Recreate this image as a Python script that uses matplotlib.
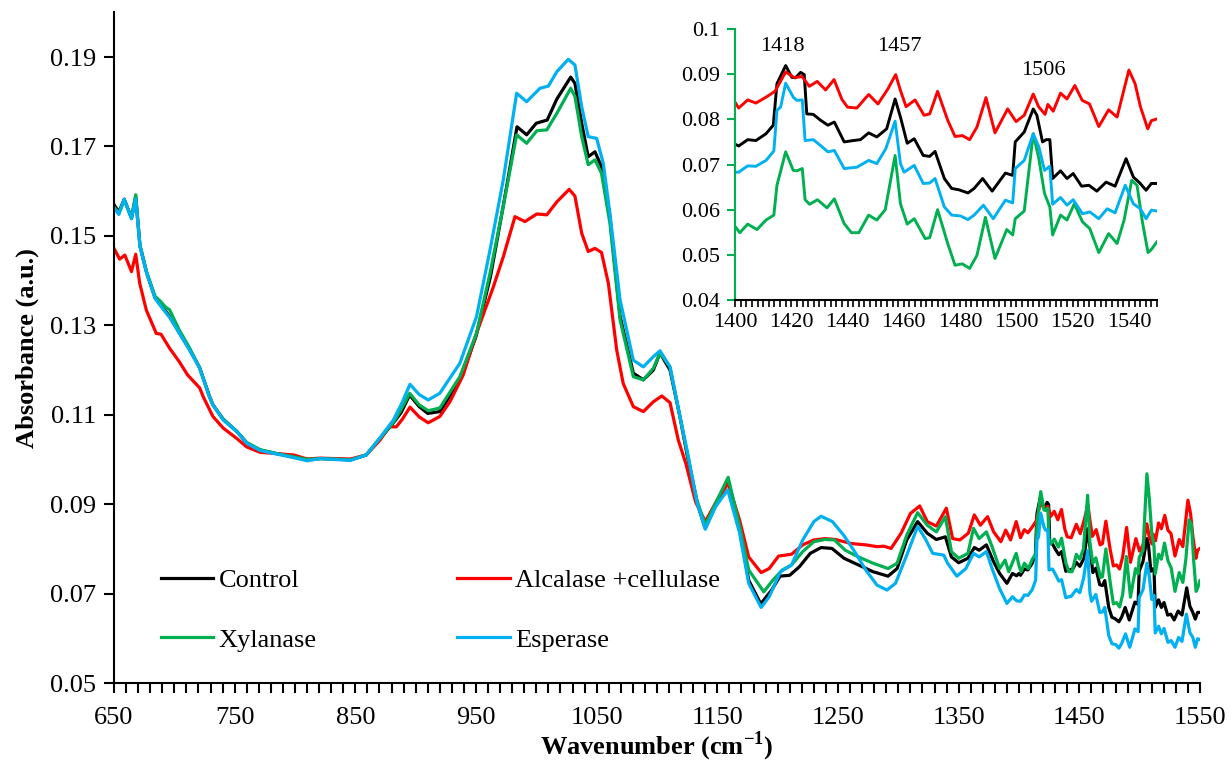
import numpy as np
import matplotlib
matplotlib.use("Agg")
import matplotlib.pyplot as plt
from matplotlib.ticker import MultipleLocator, FixedLocator

plt.rcParams['font.family'] = ['Liberation Serif', 'DejaVu Serif']
plt.rcParams['mathtext.fontset'] = 'custom'
plt.rcParams['mathtext.rm'] = 'Liberation Serif'
plt.rcParams['mathtext.bf'] = 'Liberation Serif:bold'

# ---------------- data (main spectrum, 650-1550 cm-1) ----------------
control_wn = [650, 654, 658.5, 664.5, 668, 671.5, 677, 684, 689, 696, 704, 712.5, 721, 729, 732,
              740.5, 752, 760, 771, 785, 799, 810, 821, 832, 846, 859, 870, 881, 888, 895, 903,
              910, 920, 937, 950, 962, 973, 984, 992, 1000, 1009, 1017, 1028.5, 1032, 1037.6,
              1043, 1048.6, 1054, 1061, 1069.4, 1080.4, 1088.7, 1097, 1102.5, 1110.8, 1119,
              1125, 1133, 1140, 1149, 1159, 1168.5, 1176, 1186, 1195, 1202, 1210, 1218, 1227,
              1236, 1245, 1255, 1267, 1279, 1291.5, 1299, 1307, 1316, 1324, 1331.5, 1339, 1344,
              1350, 1357.7, 1363, 1367, 1373, 1379, 1384, 1390, 1394.6, 1398,
              1400, 1401.3, 1404.5, 1407.4, 1411, 1413.6, 1414.9, 1418, 1420.2, 1421.5, 1423.3,
              1424.6, 1425.5, 1427.8, 1430.4, 1433, 1435.3, 1438.8, 1442, 1444.6, 1447.5,
              1450.4, 1453.9, 1456.9, 1458.8, 1461.2, 1463.7, 1466.9, 1469.2, 1471.1, 1474.4,
              1477, 1479.6, 1482.8, 1485, 1488, 1491.4, 1496.1, 1498.7, 1499.6, 1502.8, 1506,
              1507.3, 1509.3, 1510.6, 1511.9, 1512.9, 1515.7, 1518, 1520.2, 1523.2, 1525.8,
              1528.6, 1531.9, 1535.1, 1539, 1541.6, 1543.9, 1546.1, 1548, 1550]
control_abs = [0.1570, 0.1553, 0.1582, 0.1540, 0.1588, 0.1478, 0.1418, 0.1362, 0.1345, 0.1320,
               0.1284, 0.1247, 0.1205, 0.1142, 0.1122, 0.1090, 0.1062, 0.1037, 0.1021, 0.1013,
               0.1006, 0.1000, 0.1002, 0.1001, 0.0999, 0.1010, 0.1045, 0.1080, 0.1105, 0.1144,
               0.1118, 0.1103, 0.1107, 0.1178, 0.1275, 0.1409, 0.1573, 0.1744, 0.1726, 0.1752,
               0.1759, 0.1806, 0.1855, 0.1841, 0.1752, 0.1677, 0.1688, 0.1655, 0.1543, 0.1320,
               0.1193, 0.1178, 0.1200, 0.1238, 0.1200, 0.1096, 0.1010, 0.0905, 0.0846, 0.0900,
               0.0952, 0.0842, 0.0730, 0.0677, 0.0708, 0.0739, 0.0741, 0.0760, 0.0790, 0.0803,
               0.0801, 0.0779, 0.0764, 0.0749, 0.0739, 0.0756, 0.0820, 0.0861, 0.0835, 0.0821,
               0.0827, 0.0782, 0.0769, 0.0779, 0.0803, 0.0797, 0.0809, 0.0771, 0.0745, 0.0723,
               0.0745, 0.0740,
               0.0745, 0.0741, 0.0755, 0.0753, 0.0768, 0.0787, 0.0879, 0.0919, 0.0893, 0.0892,
               0.0904, 0.0899, 0.0812, 0.0811, 0.0798, 0.0787, 0.0794, 0.0750, 0.0753, 0.0755,
               0.0770, 0.0761, 0.0779, 0.0845, 0.0805, 0.0747, 0.0757, 0.0720, 0.0718, 0.0729,
               0.0669, 0.0647, 0.0644, 0.0637, 0.0647, 0.0669, 0.0641, 0.0681, 0.0676, 0.0750,
               0.0772, 0.0823, 0.0809, 0.0750, 0.0755, 0.0755, 0.0669, 0.0686, 0.0669, 0.0680,
               0.0652, 0.0654, 0.0641, 0.0661, 0.0652, 0.0713, 0.0672, 0.0659, 0.0643, 0.0658,
               0.0658]

alcalase_wn = [650, 654.7, 659, 664.5, 668, 671.3, 676.8, 685, 689, 696, 704, 711, 721, 724, 732,
               740.6, 751.7, 760, 771, 785, 799, 810, 821, 832, 846, 859, 870.4, 878, 884, 889,
               895.3, 903, 910.4, 920, 928.4, 939.4, 950.4, 964.4, 972.6, 982.3, 990.6, 1000.4,
               1008.7, 1017, 1027.2, 1032, 1037.6, 1043, 1048.6, 1054, 1059.7, 1066.6, 1072,
               1080.4, 1088.7, 1097, 1104, 1110.8, 1117.7, 1124, 1132, 1140, 1149, 1159, 1168.5,
               1176, 1186.3, 1193, 1200.8, 1211.5, 1220.8, 1230, 1239, 1248, 1260.8, 1273,
               1282.3, 1288, 1294, 1302.3, 1310, 1317.7, 1324, 1331.5, 1339.8, 1345, 1351, 1358,
               1363, 1368, 1374, 1379, 1385, 1389, 1393, 1397.7,
               1400, 1401.3, 1404.5, 1407.4, 1411, 1414.2, 1418, 1421.2, 1423.8, 1426.4, 1429.2,
               1432.2, 1435.2, 1438, 1440, 1443.3, 1447.5, 1450.8, 1454.3, 1457.1, 1458.8,
               1460.8, 1464, 1467.2, 1469.2, 1472, 1475.6, 1478.2, 1480.8, 1483.4, 1486, 1489.2,
               1492.4, 1496.9, 1499.9, 1502.8, 1506, 1507.9, 1510.2, 1511.2, 1513.1, 1515.7,
               1518, 1520.8, 1523.4, 1526, 1529.3, 1532.8, 1535.8, 1540, 1542.2, 1544.1, 1546.7,
               1548, 1550]
alcalase_abs = [0.1472, 0.1448, 0.1457, 0.1420, 0.1459, 0.1394, 0.1334, 0.1282, 0.1280, 0.1249,
                0.1219, 0.1189, 0.1160, 0.1140, 0.1096, 0.1070, 0.1047, 0.1028, 0.1016, 0.1013,
                0.1010, 0.1001, 0.1003, 0.1002, 0.1001, 0.1010, 0.1043, 0.1073, 0.1073, 0.1090,
                0.1117, 0.1095, 0.1082, 0.1096, 0.1129, 0.1189, 0.1282, 0.1386, 0.1453, 0.1543,
                0.1532, 0.1549, 0.1547, 0.1576, 0.1604, 0.1589, 0.1506, 0.1465, 0.1472, 0.1463,
                0.1394, 0.1245, 0.1170, 0.1118, 0.1107, 0.1129, 0.1142, 0.1127, 0.1043, 0.0990,
                0.0905, 0.0861, 0.0905, 0.0947, 0.0864, 0.0782, 0.0747, 0.0756, 0.0784, 0.0788,
                0.0809, 0.0820, 0.0823, 0.0821, 0.0812, 0.0809, 0.0805, 0.0806, 0.0801, 0.0835,
                0.0879, 0.0896, 0.0861, 0.0851, 0.0891, 0.0823, 0.0820, 0.0835, 0.0876, 0.0853,
                0.0872, 0.0838, 0.0816, 0.0842, 0.0820, 0.0861,
                0.0838, 0.0825, 0.0843, 0.0836, 0.0849, 0.0862, 0.0905, 0.0892, 0.0895, 0.0873,
                0.0884, 0.0865, 0.0888, 0.0844, 0.0827, 0.0825, 0.0855, 0.0834, 0.0867, 0.0899,
                0.0864, 0.0828, 0.0843, 0.0809, 0.0812, 0.0862, 0.0798, 0.0762, 0.0764, 0.0755,
                0.0783, 0.0848, 0.0770, 0.0823, 0.0795, 0.0809, 0.0856, 0.0828, 0.0811, 0.0833,
                0.0818, 0.0858, 0.0845, 0.0875, 0.0842, 0.0834, 0.0784, 0.0821, 0.0805, 0.0909,
                0.0879, 0.0828, 0.0779, 0.0797, 0.0801]

xylanase_wn = [650, 654, 658.5, 664.5, 668, 671.5, 677, 684, 688, 693, 696, 704, 712.5, 721, 729,
               732, 740.5, 752, 760, 771, 785, 799, 810, 821, 832, 846, 859, 870, 881.5, 888, 895,
               903, 910.4, 920, 936.6, 950.4, 961.6, 972.6, 983.7, 992, 1000.4, 1008.7, 1017,
               1028.5, 1032, 1037.6, 1043, 1048.6, 1054, 1061, 1069.4, 1080.4, 1088.7, 1097,
               1102.5, 1110.8, 1119, 1125, 1133, 1140, 1149, 1159, 1168.5, 1176, 1188.5, 1196,
               1204, 1211.5, 1220.8, 1230, 1239, 1247, 1256, 1267, 1279, 1291.5, 1299, 1307,
               1316, 1324, 1331.5, 1339, 1344, 1350, 1357.7, 1362.3, 1367, 1373, 1377.7, 1384,
               1388.5, 1391.5, 1397.7,
               1400, 1401.7, 1404.5, 1407.8, 1411, 1413.8, 1414.9, 1418, 1420.7, 1422, 1423.9,
               1424.9, 1426.5, 1429.3, 1432.7, 1435.3, 1438.8, 1441.4, 1444, 1447.5, 1450.4,
               1453.4, 1456.9, 1458.8, 1461.2, 1463.7, 1467.6, 1469.2, 1472, 1475.6, 1478.2,
               1480.8, 1483.4, 1486, 1489, 1492.4, 1496.6, 1498.7, 1499.6, 1502.8, 1506, 1508,
               1510, 1511.9, 1512.9, 1515.7, 1518, 1520.6, 1523.5, 1526.1, 1529.3, 1532.8,
               1535.8, 1538.3, 1541, 1542.9, 1544.8, 1546.8, 1548, 1550]
xylanase_abs = [0.1565, 0.1550, 0.1580, 0.1540, 0.1592, 0.1480, 0.1420, 0.1365, 0.1355, 0.1340,
                0.1335, 0.1290, 0.1250, 0.1205, 0.1142, 0.1122, 0.1090, 0.1062, 0.1038, 0.1022,
                0.1013, 0.1006, 0.1000, 0.1002, 0.1001, 0.0999, 0.1010, 0.1046, 0.1083, 0.1112,
                0.1148, 0.1122, 0.1109, 0.1115, 0.1185, 0.1282, 0.1416, 0.1566, 0.1726, 0.1707,
                0.1735, 0.1737, 0.1774, 0.1830, 0.1812, 0.1722, 0.1659, 0.1670, 0.1640, 0.1528,
                0.1312, 0.1185, 0.1178, 0.1204, 0.1238, 0.1207, 0.1096, 0.1015, 0.0910, 0.0853,
                0.0905, 0.0960, 0.0850, 0.0753, 0.0704, 0.0730, 0.0753, 0.0764, 0.0794, 0.0816,
                0.0821, 0.0820, 0.0797, 0.0782, 0.0768, 0.0756, 0.0768, 0.0831, 0.0881, 0.0853,
                0.0838, 0.0872, 0.0794, 0.0779, 0.0790, 0.0846, 0.0823, 0.0838, 0.0805, 0.0756,
                0.0775, 0.0749, 0.0790,
                0.0763, 0.0749, 0.0768, 0.0756, 0.0777, 0.0788, 0.0854, 0.0928, 0.0887, 0.0886,
                0.0891, 0.0822, 0.0812, 0.0822, 0.0804, 0.0824, 0.0769, 0.0749, 0.0749, 0.0788,
                0.0777, 0.0800, 0.0920, 0.0813, 0.0768, 0.0780, 0.0736, 0.0738, 0.0800, 0.0725,
                0.0677, 0.0680, 0.0670, 0.0699, 0.0783, 0.0692, 0.0756, 0.0744, 0.0780, 0.0797,
                0.0968, 0.0913, 0.0836, 0.0806, 0.0744, 0.0788, 0.0777, 0.0813, 0.0773, 0.0758,
                0.0705, 0.0747, 0.0725, 0.0777, 0.0865, 0.0854, 0.0773, 0.0705, 0.0712, 0.0729]

esperase_wn = [650, 654, 658.5, 664.5, 668, 671.5, 677, 684, 689, 696, 704, 712.5, 721, 729, 732,
               740.5, 752, 760, 771, 785, 799, 810, 821, 832, 846, 859, 870, 881.5, 888.4, 895.3,
               903, 910.4, 920, 936.6, 950.4, 961.6, 972.6, 983.7, 992, 1003, 1010, 1017, 1026.5,
               1032, 1037.6, 1043, 1050, 1055.5, 1061, 1069.4, 1080.4, 1088.7, 1097, 1102.5,
               1110.8, 1119, 1125, 1133, 1140, 1148.5, 1158.6, 1168.5, 1176, 1186.3, 1193,
               1202.3, 1211.5, 1220.8, 1230, 1236, 1245.4, 1254.6, 1263.8, 1273, 1282.3, 1290.6,
               1297.7, 1307, 1316, 1322.3, 1328.5, 1337.7, 1340.8, 1348.5, 1356, 1362.3, 1367,
               1373, 1377.7, 1383.8, 1390, 1394.6, 1398,
               1400, 1401.3, 1404.5, 1407.4, 1411, 1413.8, 1414.9, 1416.2, 1418, 1420.7, 1422,
               1423.9, 1424.9, 1427.8, 1430.4, 1433, 1435.3, 1438.8, 1443.3, 1447.5, 1450.4,
               1453.6, 1456.9, 1458.8, 1460.1, 1463.7, 1466.9, 1469.2, 1471.1, 1474.4, 1477,
               1480.2, 1482.8, 1485, 1488.3, 1491.8, 1496.1, 1498.7, 1499.6, 1502.8, 1506, 1508,
               1510, 1511.9, 1512.9, 1515.7, 1518, 1520.2, 1523.5, 1526.1, 1529.3, 1532.3,
               1535.1, 1538.7, 1541.6, 1544.1, 1546.1, 1548, 1550]
esperase_abs = [0.1562, 0.1548, 0.1582, 0.1538, 0.1582, 0.1476, 0.1417, 0.1360, 0.1342, 0.1318,
                0.1283, 0.1245, 0.1204, 0.1140, 0.1122, 0.1088, 0.1062, 0.1036, 0.1020, 0.1012,
                0.1004, 0.0997, 0.1002, 0.1000, 0.0998, 0.1010, 0.1047, 0.1088, 0.1125, 0.1168,
                0.1145, 0.1133, 0.1148, 0.1215, 0.1319, 0.1468, 0.1625, 0.1819, 0.1800, 0.1830,
                0.1835, 0.1867, 0.1895, 0.1882, 0.1789, 0.1722, 0.1718, 0.1662, 0.1550, 0.1357,
                0.1222, 0.1207, 0.1230, 0.1243, 0.1207, 0.1096, 0.1020, 0.0905, 0.0844, 0.0894,
                0.0932, 0.0835, 0.0723, 0.0669, 0.0693, 0.0749, 0.0764, 0.0820, 0.0861, 0.0873,
                0.0861, 0.0831, 0.0794, 0.0753, 0.0719, 0.0708, 0.0723, 0.0786, 0.0850, 0.0823,
                0.0790, 0.0786, 0.0768, 0.0739, 0.0756, 0.0790, 0.0782, 0.0794, 0.0756, 0.0712,
                0.0678, 0.0693, 0.0684,
                0.0683, 0.0683, 0.0697, 0.0696, 0.0709, 0.0730, 0.0820, 0.0827, 0.0880, 0.0849,
                0.0842, 0.0843, 0.0753, 0.0755, 0.0742, 0.0728, 0.0731, 0.0691, 0.0694, 0.0709,
                0.0702, 0.0735, 0.0796, 0.0702, 0.0683, 0.0698, 0.0658, 0.0659, 0.0669, 0.0606,
                0.0588, 0.0586, 0.0578, 0.0588, 0.0610, 0.0580, 0.0621, 0.0615, 0.0691, 0.0709,
                0.0768, 0.0739, 0.0687, 0.0696, 0.0612, 0.0627, 0.0610, 0.0622, 0.0591, 0.0595,
                0.0580, 0.0602, 0.0593, 0.0654, 0.0613, 0.0602, 0.0580, 0.0599, 0.0597]

series_labels = ['Control', 'Alcalase +cellulase', 'Xylanase', 'Esperase']
series_colors = ['#000000', '#FF0000', '#00B050', '#00B0F0']

# the inset draws the Xylanase trace shifted down by this amount (as in the original figure)
xylanase_inset_shift = -0.02

main_xticks = [650, 750, 850, 950, 1050, 1150, 1250, 1350, 1450, 1550]
main_yticks = [0.05, 0.07, 0.09, 0.11, 0.13, 0.15, 0.17, 0.19]
inset_xticks = [1400, 1420, 1440, 1460, 1480, 1500, 1520, 1540]
inset_yticks = [0.04, 0.05, 0.06, 0.07, 0.08, 0.09, 0.10]
inset_ytick_labels = ['0.04', '0.05', '0.06', '0.07', '0.08', '0.09', '0.1']
peak_labels = ['1418', '1457', '1506']
peak_label_pos = [(1417, 0.0962), (1458.5, 0.0962), (1509.5, 0.0909)]

# ---------------- figure ----------------
fig = plt.figure(figsize=(12.31, 7.63), dpi=100)
ax = fig.add_axes([0.0926, 0.1048, 0.8822, 0.8791])

series = [(control_wn, control_abs), (alcalase_wn, alcalase_abs),
          (xylanase_wn, xylanase_abs), (esperase_wn, esperase_abs)]
lines = []
for (wn, ab), lab, col in zip(series, series_labels, series_colors):
    ln, = ax.plot(wn, ab, color=col, lw=2.3, label=lab, solid_joinstyle='round')
    lines.append(ln)

ax.set_xlim(650, 1550)
ax.set_ylim(0.05, 0.20)
ax.xaxis.set_major_locator(FixedLocator(main_xticks))
ax.xaxis.set_minor_locator(MultipleLocator(10))
ax.yaxis.set_major_locator(FixedLocator(main_yticks))
ax.yaxis.set_major_formatter(matplotlib.ticker.FormatStrFormatter('%.2f'))
for s in ['top', 'right']:
    ax.spines[s].set_visible(False)
for s in ['left', 'bottom']:
    ax.spines[s].set_linewidth(1.5)
ax.tick_params(axis='both', which='both', direction='out', length=7, width=1.5,
               labelsize=19, pad=6)
ax.tick_params(axis='x', which='major', pad=10)
ax.set_xlabel(r'Wavenumber (cm$^{\mathbf{-1}}$)', fontsize=19, fontweight='bold', labelpad=1)
ax.set_ylabel('Absorbance (a.u.)', fontsize=19, fontweight='bold', labelpad=8)

order = [0, 2, 1, 3]
leg = ax.legend([lines[i] for i in order], [series_labels[i] for i in order],
                ncol=2, loc='upper left', bbox_to_anchor=(0.043, 0.171), frameon=False,
                fontsize=19, handlelength=2.0, handletextpad=0.2, columnspacing=5.3,
                labelspacing=1.38, borderpad=0, borderaxespad=0)

# ---------------- inset ----------------
axin = fig.add_axes([0.5971, 0.6068, 0.3428, 0.3552])
for (wn, ab), col, lab in zip(series, series_colors, series_labels):
    wn = np.asarray(wn)
    ab = np.asarray(ab)
    m = wn >= 1400
    y = ab[m] + (xylanase_inset_shift if lab == 'Xylanase' else 0.0)
    axin.plot(wn[m], y, color=col, lw=2.1, solid_joinstyle='round')
axin.set_xlim(1400, 1550)
axin.set_ylim(0.04, 0.10)
axin.xaxis.set_major_locator(FixedLocator(inset_xticks))
axin.xaxis.set_minor_locator(MultipleLocator(2))
axin.set_yticks(inset_yticks)
axin.set_yticklabels(inset_ytick_labels)
for s in ['top', 'right']:
    axin.spines[s].set_visible(False)
axin.spines['left'].set_color('#00B050')
axin.spines['left'].set_linewidth(1.5)
axin.spines['bottom'].set_linewidth(1.5)
axin.tick_params(axis='y', colors='#00B050', labelcolor='black', direction='out',
                 length=6, width=1.5, labelsize=16, pad=5)
axin.tick_params(axis='x', which='both', direction='out', length=5, width=1.2,
                 labelsize=16, pad=4)
for txt, (px, py) in zip(peak_labels, peak_label_pos):
    axin.text(px, py, txt, fontsize=16, ha='center', va='center')

fig.savefig('out.png', dpi=100)
